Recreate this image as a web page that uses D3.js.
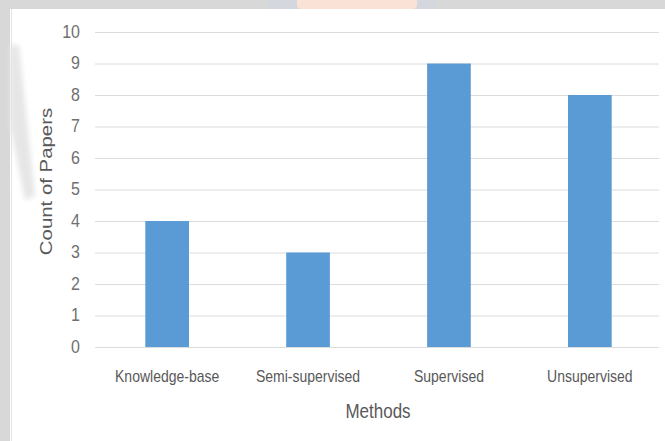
<!DOCTYPE html>
<html>
<head>
<meta charset="utf-8">
<script src="https://cdn.jsdelivr.net/npm/d3@7"></script>
<style>
  html, body { margin: 0; padding: 0; background: #ffffff; }
  svg { display: block; }
  text { font-family: "Liberation Sans", Arial, sans-serif; }
</style>
</head>
<body>
<svg id="chart" width="665" height="441"></svg>
<script>
// Papers per method
const categories = ["Knowledge-base", "Semi-supervised", "Supervised", "Unsupervised"];
const paperCounts = [4, 3, 9, 8];
const yTicks = [0, 1, 2, 3, 4, 5, 6, 7, 8, 9, 10];
const xTitle = "Methods";
const yTitle = "Count of Papers";

const W = 665, H = 441;
const svg = d3.select("#chart");
const stretch = 1.2; // glyphs drawn taller than wide

const defs = svg.append("defs");
defs.append("filter").attr("id", "soft")
  .append("feGaussianBlur").attr("stdDeviation", 2.5);

// page frame: grey strip along the top and left, white sheet behind the chart
svg.append("rect").attr("x", 0).attr("y", 0).attr("width", W).attr("height", H).attr("fill", "#d8d8d8");
svg.append("rect").attr("x", 267).attr("y", 0).attr("width", 169).attr("height", 9).attr("fill", "#d5d7de");
svg.append("path")
  .attr("d", "M297,0 H417 V5 Q417,9 412,9 H302 Q297,9 297,5 Z")
  .attr("fill", "#fbe2d6");
svg.append("rect").attr("x", 10).attr("y", 9).attr("width", W - 10).attr("height", H - 9).attr("fill", "#ffffff");
svg.append("line").attr("x1", 11.5).attr("x2", 11.5).attr("y1", 9).attr("y2", H).attr("stroke", "#e4e4e4");
// faint diagonal mark on the left margin
svg.append("path")
  .attr("d", "M10,45 L19,45 L35,196 L25,200 L10,125 Z")
  .attr("fill", "#e6e6e6")
  .attr("filter", "url(#soft)");

const x = d3.scaleBand()
  .domain(categories)
  .range([96, 661])
  .paddingInner(0.69)
  .paddingOuter(0.35);

const y = d3.scaleLinear().domain([0, 10]).range([347, 32]);

const gridLeft = 95, gridRight = 659;

// value axis with gridlines
const yAxis = svg.append("g")
  .attr("transform", `translate(${gridLeft},0)`)
  .call(d3.axisLeft(y).tickValues(yTicks).tickSize(-(gridRight - gridLeft)).tickPadding(15).tickFormat(d3.format("d")));
yAxis.select(".domain").remove();
yAxis.selectAll(".tick line").attr("stroke", "#dcdcdc").attr("stroke-width", 1);
yAxis.selectAll(".tick text")
  .attr("fill", "#707070")
  .attr("font-size", 16)
  .attr("dy", null)
  .attr("y", 0)
  .attr("x", null)
  .attr("transform", `translate(-15,5) scale(1,${stretch})`);

// bars
svg.append("g").selectAll("rect")
  .data(categories.map((c, i) => ({ c, v: paperCounts[i] })))
  .join("rect")
  .attr("x", d => x(d.c))
  .attr("y", d => y(d.v))
  .attr("width", x.bandwidth())
  .attr("height", d => y(0) - y(d.v))
  .attr("fill", "#5b9bd5");

// category axis labels
const xAxis = svg.append("g")
  .attr("transform", `translate(0,${y(0)})`)
  .call(d3.axisBottom(x).tickSize(0).tickPadding(0));
xAxis.select(".domain").remove();
xAxis.selectAll(".tick text")
  .attr("fill", "#595959")
  .attr("font-size", 14)
  .attr("dy", null)
  .attr("y", 0)
  .attr("transform", `translate(0,35) scale(1,${stretch})`);

// axis titles
svg.append("text")
  .attr("transform", `translate(378,418) scale(1,${stretch})`)
  .attr("text-anchor", "middle")
  .attr("font-size", 17)
  .attr("fill", "#595959")
  .text(xTitle);

svg.append("text")
  .attr("transform", `translate(52,${(y(0) + y(10)) / 2 - 8}) rotate(-90) scale(${stretch},1)`)
  .attr("text-anchor", "middle")
  .attr("font-size", 17)
  .attr("fill", "#595959")
  .text(yTitle);
</script>
</body>
</html>
